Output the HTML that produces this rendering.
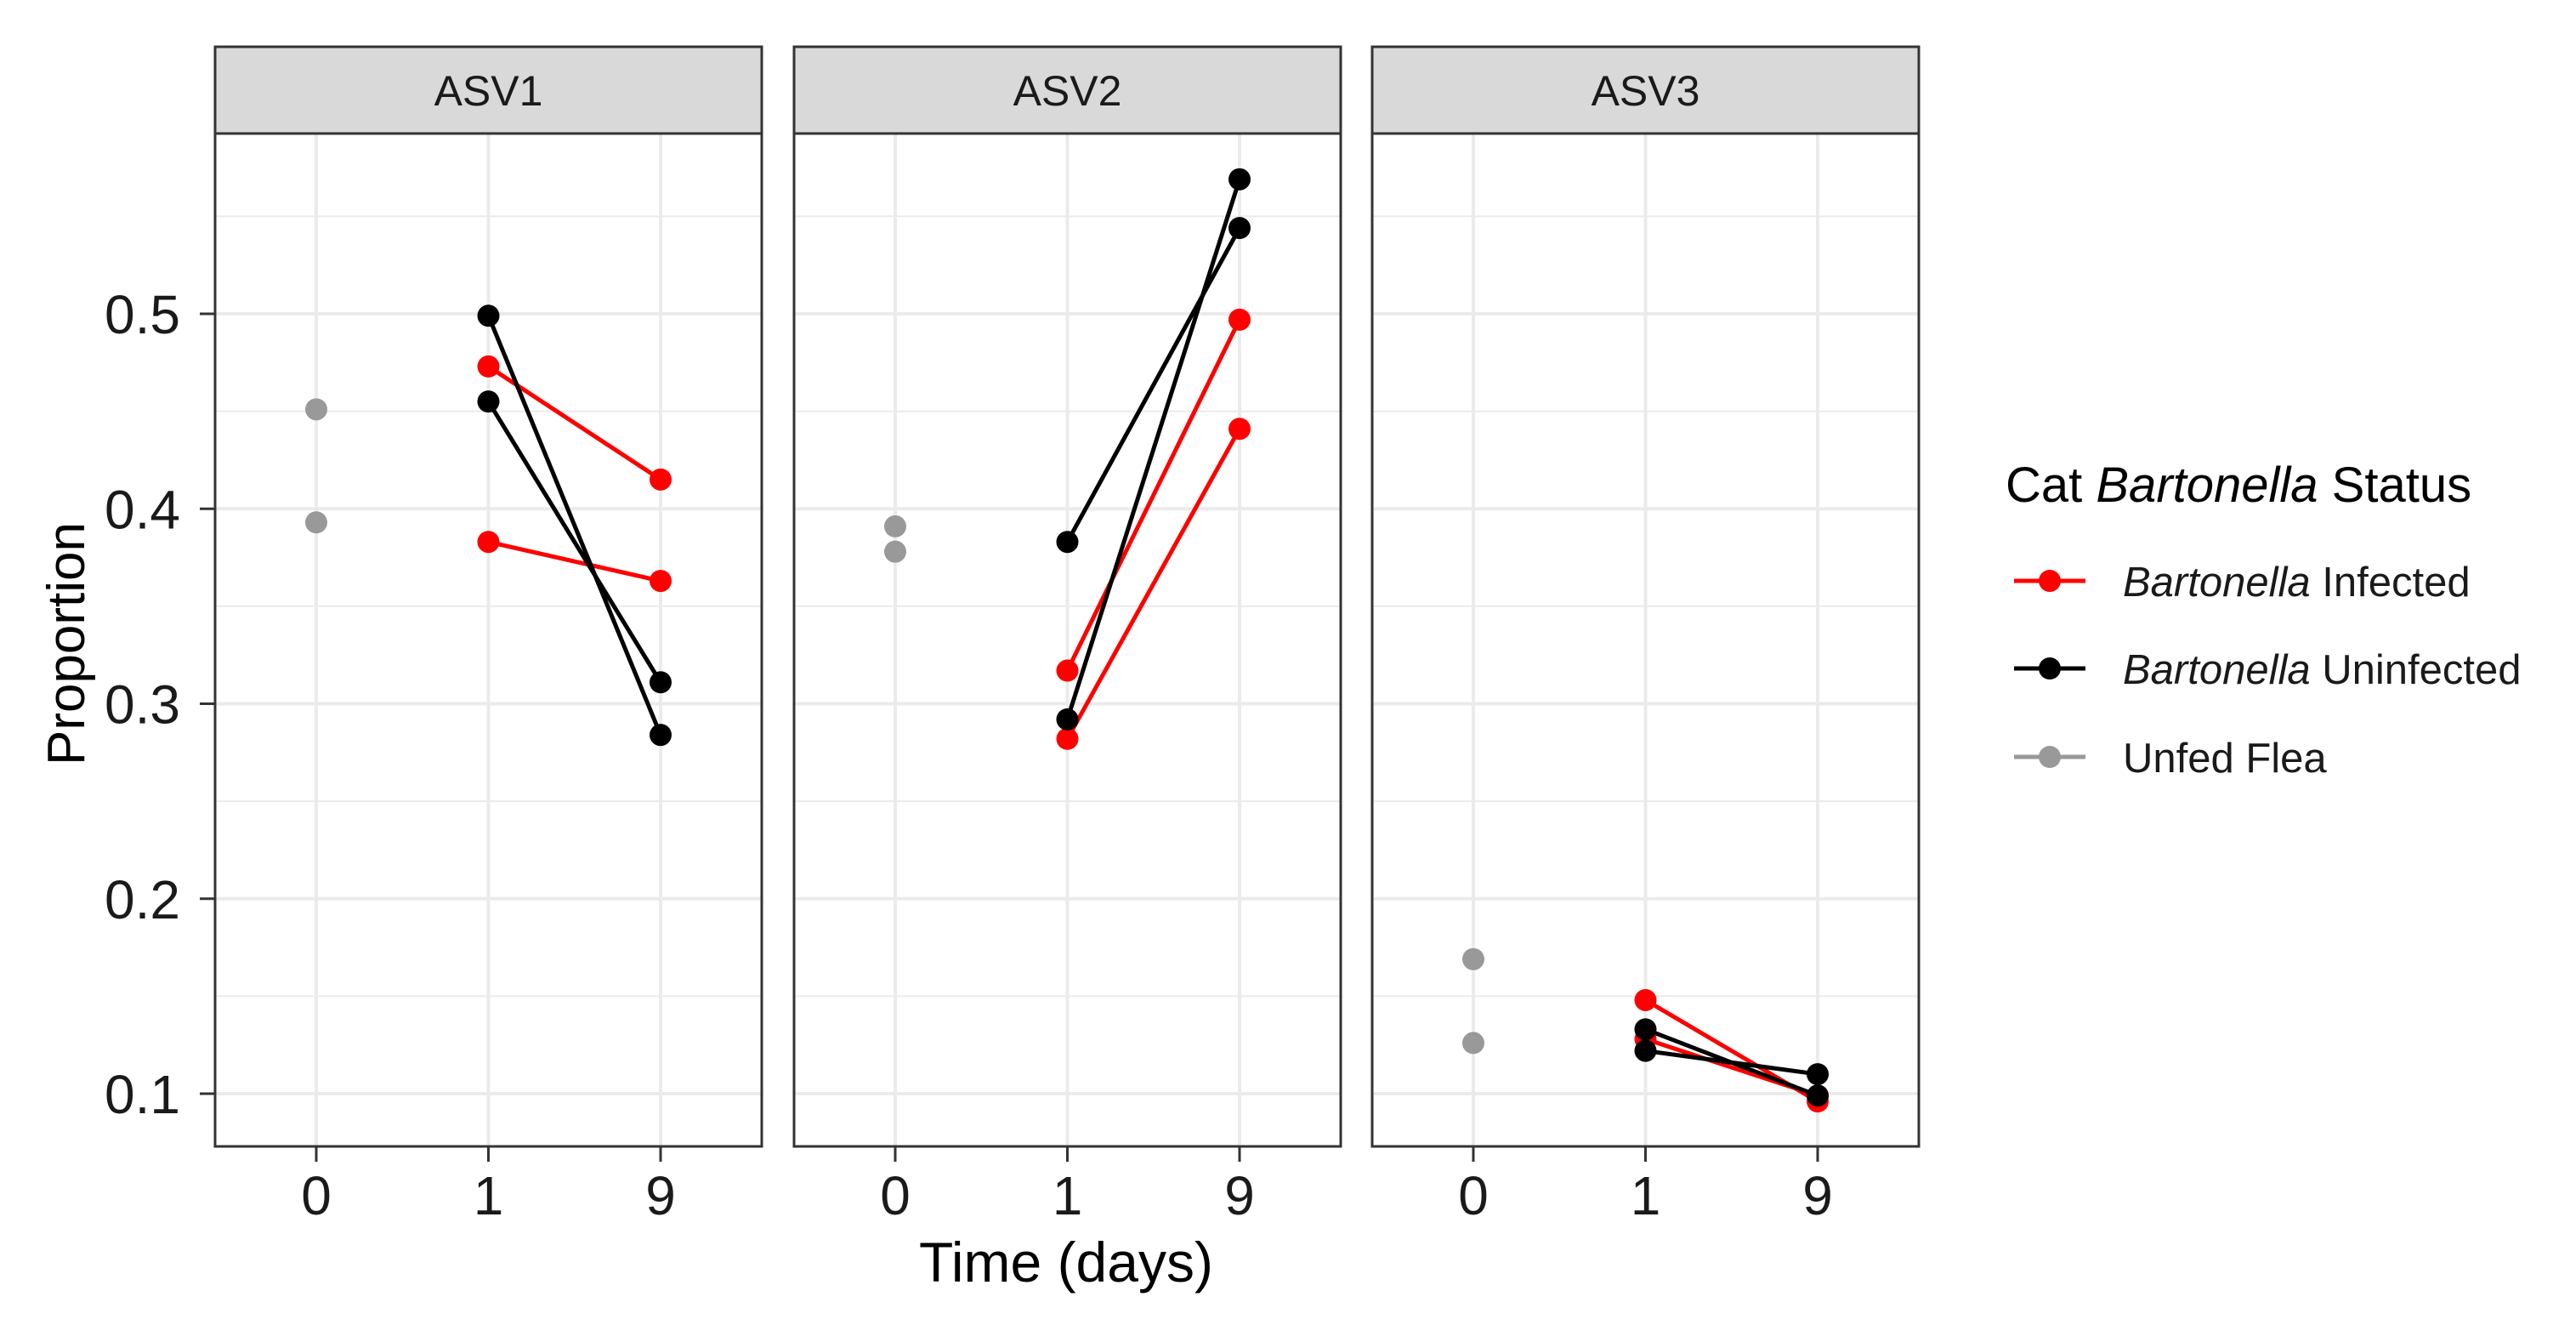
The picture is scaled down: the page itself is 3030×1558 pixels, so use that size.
<!DOCTYPE html>
<html><head><meta charset="utf-8"><style>
html,body{margin:0;padding:0;background:#fff}
svg{display:block;font-family:"Liberation Sans",Arial,sans-serif}
</style></head><body>
<svg id="chart" width="3030" height="1558" viewBox="0 0 3030 1558" xmlns="http://www.w3.org/2000/svg"></svg>
<script>
const panels = ["ASV1","ASV2","ASV3"];
const timeLabels = ["0","1","9"];
const yTicks = [0.1,0.2,0.3,0.4,0.5];
const yTickLabels = ["0.1","0.2","0.3","0.4","0.5"];
const unfedValues = [[0.451,0.393],[0.391,0.378],[0.169,0.126]];
const infectedDay1 = [[0.473,0.383],[0.317,0.282],[0.148,0.128]];
const infectedDay9 = [[0.415,0.363],[0.497,0.441],[0.096,0.099]];
const uninfectedDay1 = [[0.499,0.455],[0.383,0.292],[0.133,0.122]];
const uninfectedDay9 = [[0.284,0.311],[0.544,0.569],[0.099,0.110]];

const NS="http://www.w3.org/2000/svg";
const svg=document.getElementById('chart');
function mk(tag,attrs,parent){const e=document.createElementNS(NS,tag);for(const k in attrs)e.setAttribute(k,attrs[k]);(parent||svg).appendChild(e);return e;}
const panelLeft=[253,934,1614], panelW=643, plotTop=157, plotBottom=1348, stripTop=55;
function yS(v){return 369+(0.5-v)*2292.5;}
function xS(p,i){return panelLeft[p]+119+i*202.5;}
const RED="#ff0000", BLACK="#000000", GREY="#999999";

panels.forEach((name,p)=>{
  const L=panelLeft[p];
  const g=mk('g',{});
  
  
  mk('rect',{x:L,y:plotTop,width:panelW,height:plotBottom-plotTop,fill:'#fff'},g);
  for(let v=0.15;v<0.6;v+=0.1){const y=yS(v);if(y>plotTop&&y<plotBottom)mk('line',{x1:L,x2:L+panelW,y1:y,y2:y,stroke:'#ebebeb','stroke-width':2},g);}
  yTicks.forEach(v=>{const y=yS(v);const l=mk('line',{x1:L,x2:L+panelW,y1:y,y2:y,stroke:'#ebebeb','stroke-width':4},g);});
  timeLabels.forEach((t,i)=>{mk('line',{x1:xS(p,i),x2:xS(p,i),y1:plotTop,y2:plotBottom,stroke:'#ebebeb','stroke-width':4},g);});
  function pair(d1,d9,col,nm){
    d1[p].forEach((v,k)=>{
      const ln=mk('line',{x1:xS(p,1),y1:yS(v),x2:xS(p,2),y2:yS(d9[p][k]),stroke:col,'stroke-width':5},g);
      
    });
  }
  pair(infectedDay1,infectedDay9,RED,'infected');
  pair(uninfectedDay1,uninfectedDay9,BLACK,'uninfected');
  function pts(arr,i,col,nm){arr[p].forEach(v=>{const c=mk('circle',{cx:xS(p,i),cy:yS(v),r:13,fill:col},g);});}
  pts(unfedValues,0,GREY,'unfed');
  pts(infectedDay1,1,RED,'infected');pts(infectedDay9,2,RED,'infected');
  pts(uninfectedDay1,1,BLACK,'uninfected');pts(uninfectedDay9,2,BLACK,'uninfected');
  mk('rect',{x:L,y:plotTop,width:panelW,height:plotBottom-plotTop,fill:'none',stroke:'#333','stroke-width':3},g);
  const s=mk('rect',{x:L,y:stripTop,width:panelW,height:plotTop-stripTop,fill:'#d9d9d9',stroke:'#333','stroke-width':3},g);
  
  const st=mk('text',{x:L+panelW/2,y:124,'text-anchor':'middle','font-size':50,fill:'#1a1a1a'},g);st.textContent=name;
  
  timeLabels.forEach((t,i)=>{
    mk('line',{x1:xS(p,i),x2:xS(p,i),y1:plotBottom,y2:plotBottom+18,stroke:'#333','stroke-width':3},g);
    const tx=mk('text',{x:xS(p,i),y:1428,'text-anchor':'middle','font-size':64,fill:'#1a1a1a'},g);tx.textContent=t;
    
  });
});
yTicks.forEach((v,i)=>{
  mk('line',{x1:235,x2:253,y1:yS(v),y2:yS(v),stroke:'#333','stroke-width':3});
  const t=mk('text',{x:212,y:yS(v)+23,'text-anchor':'end','font-size':64,fill:'#1a1a1a'});t.textContent=yTickLabels[i];
  
});
const yt=mk('text',{x:0,y:0,'text-anchor':'middle','font-size':62,fill:'#000',transform:'translate(99,757) rotate(-90)'});yt.textContent='Proportion';

const xt=mk('text',{x:1254,y:1507,'text-anchor':'middle','font-size':66,fill:'#000'});xt.textContent='Time (days)';

</script>
<svg width="700" height="400" style="position:absolute;left:2340px;top:520px" xmlns="http://www.w3.org/2000/svg" font-family="Liberation Sans, Arial, sans-serif">
<text x="19" y="70" font-size="58" fill="#000">Cat <tspan font-style="italic">Bartonella</tspan> Status</text>
<g><line x1="29" x2="113" y1="163" y2="163" stroke="#ff0000" stroke-width="5"/><circle cx="71" cy="163" r="13" fill="#ff0000"/><text x="157" y="181" font-size="49" fill="#1a1a1a"><tspan font-style="italic">Bartonella</tspan> Infected</text></g>
<g><line x1="29" x2="113" y1="266" y2="266" stroke="#000" stroke-width="5"/><circle cx="71" cy="266" r="13" fill="#000"/><text x="157" y="284" font-size="49" fill="#1a1a1a"><tspan font-style="italic">Bartonella</tspan> Uninfected</text></g>
<g><line x1="29" x2="113" y1="370" y2="370" stroke="#999" stroke-width="5"/><circle cx="71" cy="370" r="13" fill="#999"/><text x="157" y="388" font-size="49" fill="#1a1a1a">Unfed Flea</text></g>
</svg>
</body></html>
